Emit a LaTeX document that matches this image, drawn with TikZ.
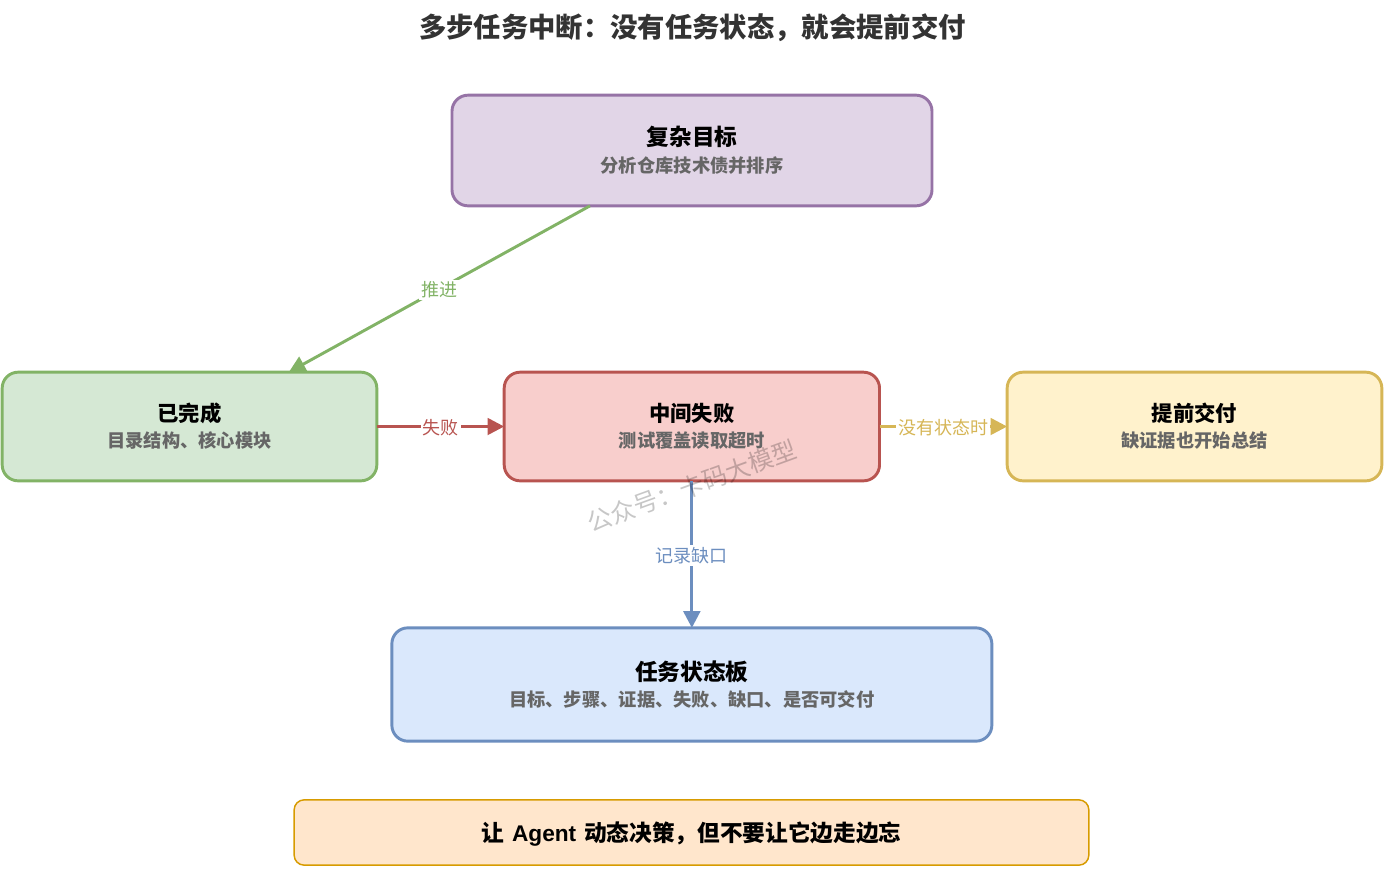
\documentclass[tikz,border=0pt]{standalone}
\usepackage{fontspec}
\setmainfont{Noto Sans CJK SC}[Script=CJK,Language=Chinese Simplified]
\newfontfamily\latinfont{Liberation Sans}
\usetikzlibrary{arrows.meta,calc}

\definecolor{goalfill}{HTML}{E1D5E7}
\definecolor{goalline}{HTML}{9673A6}
\definecolor{donefill}{HTML}{D5E8D4}
\definecolor{doneline}{HTML}{82B366}
\definecolor{failfill}{HTML}{F8CECC}
\definecolor{failline}{HTML}{B85450}
\definecolor{earlyfill}{HTML}{FFF2CC}
\definecolor{earlyline}{HTML}{D6B656}
\definecolor{boardfill}{HTML}{DAE8FC}
\definecolor{boardline}{HTML}{6C8EBF}
\definecolor{notefill}{HTML}{FFE6CC}
\definecolor{noteline}{HTML}{D79B00}

\newcommand{\boxtext}[3]{{\fontsize{#1}{20}\selectfont\bfseries #2}\\{\fontsize{13.7}{20}\selectfont\bfseries\color[HTML]{666666}#3}}

\tikzset{
    statebox/.style={draw, rounded corners=12pt, line width=2.2pt, align=center, inner sep=0pt, outer sep=0pt, font=\fontsize{14}{#1}\selectfont},
    statebox/.default=20,
    flow/.style={line width=2.2pt, -{Triangle[length=12.5pt,width=12.5pt]}},
    flowtext/.style={fill=white, inner sep=1.5pt, yshift=-0.75pt, font=\fontsize{13.5}{16}\selectfont},
}

\begin{document}
\begin{tikzpicture}[x=0.75pt,y=-0.75pt]
    \useasboundingbox (0,0) rectangle (1385,869);

    % Title
    \node[text=black!80, font=\fontsize{20.5}{24}\selectfont\bfseries] (title) at (692.5,27.5) {多步任务中断：没有任务状态，就会提前交付};

    % Boxes
    \node[statebox, fill=goalfill, draw=goalline, minimum width=360pt, minimum height=83pt] (goal) at (692,150.5) {\boxtext{17}{复杂目标}{分析仓库技术债并排序}};
    \node[statebox=19.5, fill=donefill, draw=doneline, minimum width=281pt, minimum height=81.5pt] (done) at (189.5,426.5) {\boxtext{16}{已完成}{目录结构、核心模块}};
    \node[statebox=19.5, fill=failfill, draw=failline, minimum width=281.5pt, minimum height=81.5pt] (fail) at (691.85,426.5) {\boxtext{16}{中间失败}{测试覆盖读取超时}};
    \node[statebox=19.5, fill=earlyfill, draw=earlyline, minimum width=281pt, minimum height=81.5pt] (early) at (1194.5,426.5) {\boxtext{16}{提前交付}{缺证据也开始总结}};
    \node[statebox, fill=boardfill, draw=boardline, minimum width=450pt, minimum height=85pt] (board) at (691.85,684.5) {\boxtext{17}{任务状态板}{目标、步骤、证据、失败、缺口、是否可交付}};
    \node[draw=noteline, fill=notefill, rounded corners=7.5pt, line width=1.1pt, minimum width=596pt, minimum height=49pt, inner sep=0pt, outer sep=0pt, text height=15pt, text depth=2pt, font=\fontsize{17}{20}\selectfont\bfseries] (note) at (691.5,832.5) {让\hspace{2pt} {\latinfont Agent} \hspace{2pt}动态决策，但不要让它边走边忘};

    % Connectors
    \draw[flow, doneline] ($(goal.south west)!0.2875!(goal.south east)$) -- node[flowtext, text=doneline] (push) {推进} ($(done.north west)!0.765!(done.north east)$);
    \draw[flow, failline] (done) -- node[flowtext, text=failline] (failtext) {失败} (fail);
    \draw[flow, earlyline] (fail) -- node[flowtext, text=earlyline] (earlytext) {没有状态时} (early);
    \draw[flow, boardline] (fail) -- node[flowtext, text=boardline] (gaptext) {记录缺口} (board);

    % Watermark
    \node[rotate=20, text=black, opacity=0.22, font=\fontsize{18.4}{22}\selectfont] (mark) at (692,486) {公众号：卡码大模型};
\end{tikzpicture}
\end{document}
